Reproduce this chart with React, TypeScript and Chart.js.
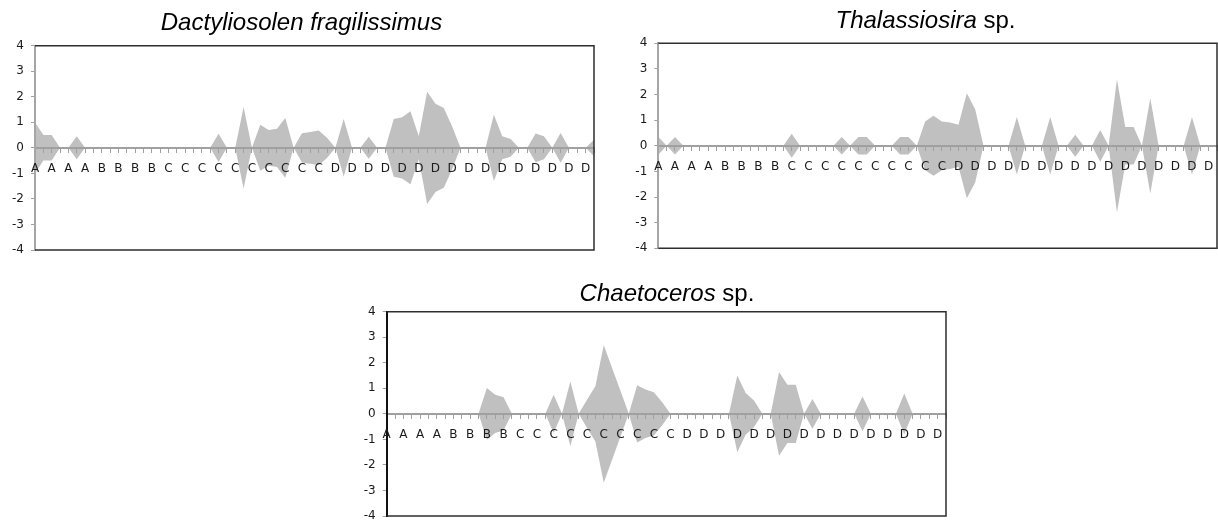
import React, { useEffect, useRef } from 'react';
import { Chart, registerables } from 'chart.js';

Chart.register(...registerables);

// ---------------- DATA ----------------
const categories = [
  'A', 'A', 'A', 'A', 'A', 'A', 'A', 'A',
  'B', 'B', 'B', 'B', 'B', 'B', 'B', 'B',
  'C', 'C', 'C', 'C', 'C', 'C', 'C', 'C', 'C', 'C',
  'C', 'C', 'C', 'C', 'C', 'C', 'C', 'C', 'C', 'C',
  'D', 'D', 'D', 'D', 'D', 'D', 'D', 'D', 'D', 'D', 'D', 'D', 'D', 'D', 'D', 'D',
  'D', 'D', 'D', 'D', 'D', 'D', 'D', 'D', 'D', 'D', 'D', 'D', 'D', 'D', 'D', 'D',
];

const dactyliosolen = [
  1.0, 0.5, 0.5, 0, 0, 0.45, 0, 0,
  0, 0, 0, 0, 0, 0, 0, 0,
  0, 0, 0, 0, 0, 0, 0.55, 0, 0, 1.6,
  0, 0.9, 0.7, 0.75, 1.17, 0, 0.57, 0.62, 0.68, 0.4,
  0, 1.13, 0, 0, 0.43, 0, 0, 1.13, 1.2, 1.43, 0.45, 2.2, 1.73, 1.56, 0.84, 0,
  0, 0, 0, 1.3, 0.45, 0.35, 0, 0, 0.56, 0.45, 0, 0.58, 0, 0, 0, 0.32,
];

const thalassiosira = [
  0.35, 0, 0.34, 0, 0, 0, 0, 0,
  0, 0, 0, 0, 0, 0, 0, 0,
  0.47, 0, 0, 0, 0, 0, 0.34, 0, 0.34, 0.34,
  0, 0, 0, 0.34, 0.34, 0, 0.95, 1.17, 0.95, 0.91,
  0.82, 2.05, 1.43, 0, 0, 0, 0, 1.12, 0, 0, 0, 1.12, 0, 0, 0.43, 0,
  0, 0.62, 0, 2.6, 0.73, 0.73, 0, 1.86, 0, 0, 0, 0, 1.12, 0, 0, 0,
];

const chaetoceros = [
  0, 0, 0, 0, 0, 0, 0, 0,
  0, 0, 0, 0, 1.01, 0.75, 0.65, 0,
  0, 0, 0, 0, 0.75, 0, 1.27, 0, 0.55, 1.08,
  2.7, 1.8, 0.9, 0, 1.12, 0.95, 0.85, 0.45, 0, 0,
  0, 0, 0, 0, 0, 0, 1.5, 0.82, 0.52, 0, 0, 1.64, 1.14, 1.14, 0, 0.58,
  0, 0, 0, 0, 0, 0.68, 0, 0, 0, 0, 0.8, 0, 0, 0, 0, 0,
];

const yTicks = [-4, -3, -2, -1, 0, 1, 2, 3, 4];

const titleDact = { italic: 'Dactyliosolen fragilissimus', normal: '' };
const titleThal = { italic: 'Thalassiosira', normal: 'sp.' };
const titleChae = { italic: 'Chaetoceros', normal: 'sp.' };

// ---------------- LAYOUT ----------------
type Box = { left: number; top: number; width: number; height: number };
type Area = { left: number; top: number; right: number; bottom: number };
type Panel = {
  canvas: Box;
  area: Area;
  title: { italic: string; normal: string };
  titlePos: { x: number; y: number };
  values: number[];
  leftAxisColor: string;
};

const panels: Panel[] = [
  {
    canvas: { left: 0, top: 0, width: 612, height: 262 },
    area: { left: 35, top: 45.7, right: 594, bottom: 250 },
    title: titleDact,
    titlePos: { x: 301.5, y: 30 },
    values: dactyliosolen,
    leftAxisColor: '#a6a6a6',
  },
  {
    canvas: { left: 615, top: 0, width: 603, height: 262 },
    area: { left: 658.3, top: 43.3, right: 1217, bottom: 248.3 },
    title: titleThal,
    titlePos: { x: 925.5, y: 28.3 },
    values: thalassiosira,
    leftAxisColor: '#a6a6a6',
  },
  {
    canvas: { left: 340, top: 265, width: 620, height: 255 },
    area: { left: 386.7, top: 311.7, right: 946, bottom: 516 },
    title: titleChae,
    titlePos: { x: 667, y: 301 },
    values: chaetoceros,
    leftAxisColor: '#111111',
  },
];

const FILL = '#c0c0c0';
const AXIS_GRAY = '#a0a0a0';
const FRAME = '#2e2e2e';
const TICK_FONT = { family: '"DejaVu Sans", Verdana, sans-serif', size: 12 };

const framePlugin = {
  id: 'frame',
  afterDraw(chart: any) {
    const { ctx, chartArea: a } = chart;
    ctx.save();
    ctx.strokeStyle = FRAME;
    ctx.lineWidth = 1.5;
    ctx.beginPath();
    ctx.moveTo(a.left, a.top);
    ctx.lineTo(a.right, a.top);
    ctx.lineTo(a.right, a.bottom);
    ctx.lineTo(a.left, a.bottom);
    ctx.stroke();
    ctx.restore();
  },
};

const titlePlugin = {
  id: 'panelTitle',
  afterDraw(chart: any, _args: any, opts: any) {
    const ctx = chart.ctx;
    const fam = '"Liberation Sans", Arial, sans-serif';
    const italicFont = `italic 24px ${fam}`;
    const normalFont = `24px ${fam}`;
    ctx.save();
    ctx.font = italicFont;
    const w1 = ctx.measureText(opts.italic).width;
    ctx.font = normalFont;
    const rest = opts.normal ? ' ' + opts.normal : '';
    const w2 = rest ? ctx.measureText(rest).width : 0;
    const start = opts.x - (w1 + w2) / 2;
    ctx.fillStyle = '#000';
    ctx.textAlign = 'left';
    ctx.textBaseline = 'alphabetic';
    ctx.font = italicFont;
    ctx.fillText(opts.italic, start, opts.y);
    if (rest) {
      ctx.font = normalFont;
      ctx.fillText(rest, start + w1, opts.y);
    }
    ctx.restore();
  },
};

function KitePanel({ panel }: { panel: Panel }) {
  const ref = useRef<HTMLCanvasElement | null>(null);

  useEffect(() => {
    const canvas = ref.current;
    if (!canvas) return;
    const { canvas: c, area } = panel;
    const yWidth = area.left - c.left;
    const chart = new Chart(canvas, {
      type: 'line',
      data: {
        labels: categories,
        datasets: [
          {
            data: panel.values,
            fill: '+1',
            backgroundColor: FILL,
            borderColor: 'rgba(0,0,0,0)',
            borderWidth: 0,
            pointRadius: 0,
            tension: 0,
          },
          {
            data: panel.values.map((v) => -v),
            fill: false,
            backgroundColor: FILL,
            borderColor: 'rgba(0,0,0,0)',
            borderWidth: 0,
            pointRadius: 0,
            tension: 0,
          },
        ],
      },
      options: {
        animation: false,
        responsive: false,
        maintainAspectRatio: false,
        devicePixelRatio: 1,
        events: [],
        layout: {
          padding: {
            left: 0,
            top: area.top - c.top,
            right: c.left + c.width - area.right,
            bottom: c.top + c.height - area.bottom,
          },
        },
        plugins: {
          legend: { display: false },
          tooltip: { enabled: false },
          title: { display: false },
          panelTitle: {
            italic: panel.title.italic,
            normal: panel.title.normal,
            x: panel.titlePos.x - c.left,
            y: panel.titlePos.y - c.top,
          },
        } as any,
        scales: {
          x: {
            type: 'category',
            position: { y: 0 } as any,
            offset: false,
            z: 1,
            grid: {
              drawOnChartArea: false,
              drawTicks: true,
              tickLength: 4,
              tickColor: AXIS_GRAY,
              lineWidth: 1,
              offset: false,
              z: 2,
            },
            border: { display: true, color: AXIS_GRAY, width: 2, z: 2 },
            ticks: {
              autoSkip: false,
              maxRotation: 0,
              minRotation: 0,
              padding: 10,
              color: '#1a1a1a',
              font: TICK_FONT,
              z: 3,
              callback: (_v: any, i: number) => (i % 2 === 0 ? categories[i] : ''),
            },
            afterFit: (s: any) => {
              s.paddingLeft = 0;
              s.paddingRight = 0;
              s.paddingTop = 0;
              s.paddingBottom = 0;
            },
          },
          y: {
            type: 'linear',
            position: 'left',
            min: -4,
            max: 4,
            z: 1,
            grid: {
              drawOnChartArea: false,
              drawTicks: true,
              tickLength: 4,
              tickColor: AXIS_GRAY,
              lineWidth: 1,
              z: 2,
            },
            border: { display: true, color: panel.leftAxisColor, width: 2, z: 2 },
            ticks: {
              padding: 7,
              color: '#1a1a1a',
              font: TICK_FONT,
              z: 3,
              callback: (v: any) => String(v),
            },
            afterBuildTicks: (s: any) => {
              s.ticks = yTicks.map((v) => ({ value: v }));
            },
            afterFit: (s: any) => {
              s.width = yWidth;
              s.paddingTop = 0;
              s.paddingBottom = 0;
              s.paddingLeft = 0;
              s.paddingRight = 0;
            },
          },
        },
      },
      plugins: [framePlugin, titlePlugin],
    } as any);
    return () => chart.destroy();
  }, [panel]);

  const { canvas: c } = panel;
  return (
    <canvas
      ref={ref}
      width={c.width}
      height={c.height}
      style={{
        position: 'absolute',
        left: c.left,
        top: c.top,
        width: c.width,
        height: c.height,
        display: 'block',
      }}
    />
  );
}

export default function App() {
  return (
    <div
      style={{
        position: 'absolute',
        left: 0,
        top: 0,
        width: 1218,
        height: 520,
        overflow: 'hidden',
        background: '#ffffff',
      }}
    >
      {panels.map((p, i) => (
        <KitePanel key={i} panel={p} />
      ))}
    </div>
  );
}
